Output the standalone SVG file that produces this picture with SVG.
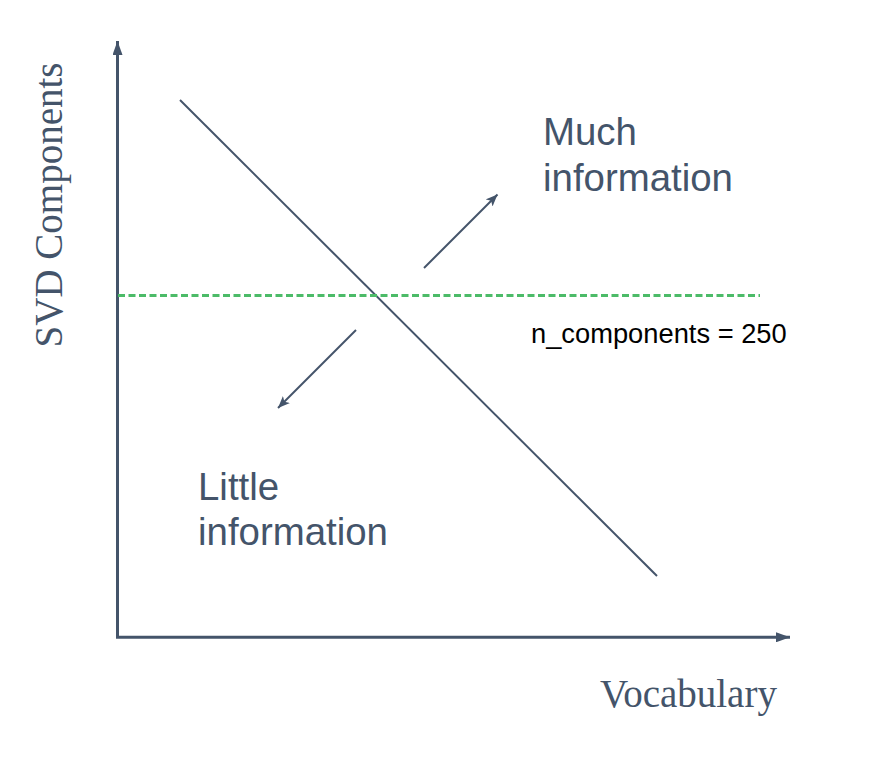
<svg xmlns="http://www.w3.org/2000/svg" width="894" height="762" viewBox="0 0 894 762">
<style>
.ax{stroke:#44546A;stroke-width:3;fill:none}
.ln{stroke:#44546A;stroke-width:2;fill:none}
.lbl{font-family:"Liberation Sans",Arial,sans-serif;font-size:38.4px;fill:#44546A}
.ttl{font-family:"Liberation Serif","Times New Roman",serif;fill:#44546A}
</style>
<defs>
<marker id="axh" viewBox="0 0 14 10" refX="14" refY="5" markerWidth="14" markerHeight="10" markerUnits="userSpaceOnUse" orient="auto">
<path d="M0,0 L14,5 L0,10 Z" fill="#44546A"/>
</marker>
<marker id="ah" viewBox="0 0 12 10" refX="12" refY="5" markerWidth="12" markerHeight="10" markerUnits="userSpaceOnUse" orient="auto">
<path d="M0,0 L12,5 L0,10 L3,5 Z" fill="#44546A"/>
</marker>
</defs>
<rect width="894" height="762" fill="#ffffff"/>
<g id="connectors">
<line id="y-axis" class="ax" x1="117.5" y1="637" x2="117.5" y2="41" marker-end="url(#axh)"/>
<line id="x-axis" class="ax" x1="116" y1="637.3" x2="790" y2="637.3" marker-end="url(#axh)"/>
<line id="diagonal" class="ln" x1="180" y1="100" x2="657" y2="576"/>
<line id="threshold" x1="118" y1="295.5" x2="760" y2="295.5" stroke="#4CBB68" stroke-width="3" stroke-dasharray="7 3.5"/>
<line id="arrow-up" class="ln" x1="424" y1="268" x2="497.5" y2="194.5" marker-end="url(#ah)"/>
<line id="arrow-down" class="ln" x1="356" y1="330" x2="278" y2="408" marker-end="url(#ah)"/>
</g>
<g id="much">
<text class="lbl" x="543" y="145">Much</text>
<text class="lbl" x="543" y="190.5">information</text>
</g>
<g id="little">
<text class="lbl" x="198" y="500">Little</text>
<text class="lbl" x="198" y="545">information</text>
</g>
<g id="n-components">
<text x="531" y="343" font-family="'Liberation Sans',Arial,sans-serif" font-size="27.3" fill="#000000">n_components = 250</text>
</g>
<g id="y-label">
<text class="ttl" font-size="39" text-anchor="middle" transform="translate(62,205) rotate(-90)">SVD Components</text>
</g>
<g id="x-label">
<text class="ttl" font-size="39" x="600" y="707">Vocabulary</text>
</g>
</svg>
